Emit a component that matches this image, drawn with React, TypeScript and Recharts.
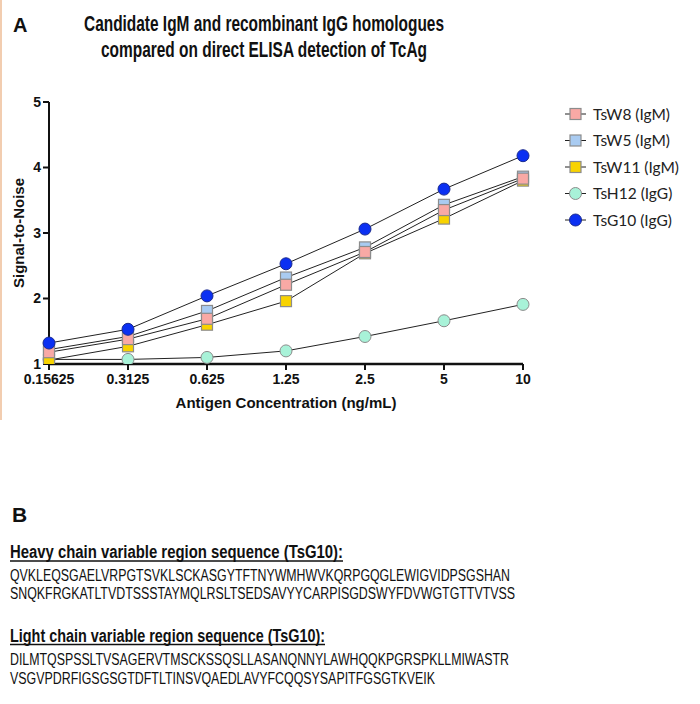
import React from "react";
import { LineChart, Line, XAxis, YAxis } from "recharts";

const concentrations = ["0.15625", "0.3125", "0.625", "1.25", "2.5", "5", "10"];
const tsW8 = [1.18, 1.38, 1.69, 2.21, 2.71, 3.35, 3.83];
const tsW5 = [1.22, 1.42, 1.81, 2.32, 2.78, 3.43, 3.86];
const tsW11 = [1.06, 1.27, 1.6, 1.96, 2.69, 3.22, 3.8];
const tsH12 = [1.07, 1.07, 1.1, 1.2, 1.42, 1.66, 1.91];
const tsG10 = [1.32, 1.53, 2.04, 2.53, 3.06, 3.67, 4.18];
const yTicks = [1, 2, 3, 4, 5];

const heavySeq = [
  "QVKLEQSGAELVRPGTSVKLSCKASGYTFTNYWMHWVKQRPGQGLEWIGVIDPSGSHAN",
  "SNQKFRGKATLTVDTSSSTAYMQLRSLTSEDSAVYYCARPISGDSWYFDVWGTGTTVTVSS",
];
const lightSeq = [
  "DILMTQSPSSLTVSAGERVTMSCKSSQSLLASANQNNYLAWHQQKPGRSPKLLMIWASTR",
  "VSGVPDRFIGSGSGTDFTLTINSVQAEDLAVYFCQQSYSAPITFGSGTKVEIK",
];

const data = concentrations.map((c, i) => ({
  conc: c,
  tsW8: tsW8[i],
  tsW5: tsW5[i],
  tsW11: tsW11[i],
  tsH12: tsH12[i],
  tsG10: tsG10[i],
}));

type Series = { key: string; name: string; fill: string; stroke: string; shape: "square" | "circle" };

// legend order
const series: Series[] = [
  { key: "tsW8", name: "TsW8 (IgM)", fill: "#f9a9a5", stroke: "#8c8c8c", shape: "square" },
  { key: "tsW5", name: "TsW5 (IgM)", fill: "#a9cbf1", stroke: "#8c8c8c", shape: "square" },
  { key: "tsW11", name: "TsW11 (IgM)", fill: "#f8d300", stroke: "#8c8c8c", shape: "square" },
  { key: "tsH12", name: "TsH12 (IgG)", fill: "#a8f2d8", stroke: "#8c8c8c", shape: "circle" },
  { key: "tsG10", name: "TsG10 (IgG)", fill: "#0b30f2", stroke: "#1a2a90", shape: "circle" },
];
// drawing order (last on top)
const drawOrder = ["tsH12", "tsW11", "tsW5", "tsW8", "tsG10"];

const FONT = "'Liberation Sans', Arial, sans-serif";
const NARROW = "'Liberation Sans Narrow', 'Liberation Sans', Arial, sans-serif";

function Marker({ s, cx, cy }: { s: Series; cx: number; cy: number }) {
  if (s.shape === "square") {
    return <rect x={cx - 5.5} y={cy - 5.5} width={11} height={11} fill={s.fill} stroke={s.stroke} strokeWidth={1.2} />;
  }
  return <circle cx={cx} cy={cy} r={6} fill={s.fill} stroke={s.stroke} strokeWidth={1} />;
}

function LegendBox() {
  return (
    <svg width={140} height={140}>
      {series.map((s, i) => {
        const y = 9 + i * 26.5;
        return (
          <g key={s.key}>
            <line x1={5} x2={26} y1={y} y2={y} stroke="#222" strokeWidth={1} />
            <Marker s={s} cx={15.5} cy={y} />
            <text x={33} y={y + 5.5} fontFamily="Lato, 'Open Sans', sans-serif" fontSize={15.5} fill="#222">
              {s.name}
            </text>
          </g>
        );
      })}
    </svg>
  );
}

export default function App() {
  return (
    <div style={{ position: "absolute", left: 0, top: 0, width: 700, height: 704, background: "#fff" }}>
      <div style={{ position: "absolute", left: 0, top: 0, width: 2, height: 420, background: "#f2cdb0" }} />
      <div style={{ position: "absolute", left: 0, top: 0 }}>
        <LineChart width={700} height={420} data={data} margin={{ top: 102, right: 177, bottom: 26, left: 14 }}>
          <XAxis
            dataKey="conc"
            interval={0}
            padding={{ left: 0, right: 0 }}
            axisLine={{ stroke: "#111", strokeWidth: 2.5 }}
            tickLine={{ stroke: "#111", strokeWidth: 2 }}
            tickSize={6}
            tickMargin={4}
            tick={{ fill: "#111", fontSize: 14, fontWeight: "bold", fontFamily: FONT }}
            height={30}
          />
          <YAxis
            type="number"
            domain={[1, 5]}
            ticks={yTicks}
            allowDataOverflow
            axisLine={{ stroke: "#111", strokeWidth: 2 }}
            tickLine={{ stroke: "#111", strokeWidth: 2 }}
            tickSize={6}
            tickMargin={2}
            tick={{ fill: "#111", fontSize: 14, fontWeight: "bold", fontFamily: FONT }}
            width={35}
          />
          {drawOrder.map((k) => {
            const s = series.find((x) => x.key === k)!;
            return (
              <Line
                key={k}
                dataKey={k}
                name={s.name}
                stroke="#222"
                strokeWidth={1}
                isAnimationActive={false}
                dot={(p: any) => <Marker key={`${k}-${p.index}`} s={s} cx={p.cx} cy={p.cy} />}
                activeDot={false}
              />
            );
          })}
        </LineChart>
      </div>
      <div style={{ position: "absolute", left: 560, top: 105 }}>
        <LegendBox />
      </div>
      <svg
        width={700}
        height={704}
        style={{ position: "absolute", left: 0, top: 0, pointerEvents: "none" }}
      >
        <text x={13} y={32} fontFamily={FONT} fontWeight="bold" fontSize={20} fill="#111">A</text>
        <text x={264} y={31} textAnchor="middle" fontFamily={NARROW} fontWeight="bold" fontSize={22} fill="#111" textLength={360} lengthAdjust="spacingAndGlyphs">
          Candidate IgM and recombinant IgG homologues
        </text>
        <text x={264} y={57} textAnchor="middle" fontFamily={NARROW} fontWeight="bold" fontSize={22} fill="#111" textLength={326} lengthAdjust="spacingAndGlyphs">
          compared on direct ELISA detection of TcAg
        </text>
        <text x={18} y={233} transform="rotate(-90 18 233)" textAnchor="middle" dominantBaseline="central" fontFamily={FONT} fontWeight="bold" fontSize={15} fill="#111">
          Signal-to-Noise
        </text>
        <text x={286} y={408} textAnchor="middle" fontFamily={FONT} fontWeight="bold" fontSize={15} fill="#111">
          Antigen Concentration (ng/mL)
        </text>

        <text x={12} y={522} fontFamily={NARROW} fontWeight="bold" fontSize={21} fill="#111">B</text>

        <text x={10} y={558} fontFamily={NARROW} fontWeight="bold" fontSize={17.5} fill="#111" textLength={333} lengthAdjust="spacingAndGlyphs">
          Heavy chain variable region sequence (TsG10):
        </text>
        <line x1={10} x2={343} y1={561} y2={561} stroke="#111" strokeWidth={1.5} />
        <text x={10} y={580.5} fontFamily={NARROW} fontSize={16} fill="#111" textLength={500} lengthAdjust="spacingAndGlyphs">
          {heavySeq[0]}
        </text>
        <text x={10} y={598.5} fontFamily={NARROW} fontSize={16} fill="#111" textLength={505} lengthAdjust="spacingAndGlyphs">
          {heavySeq[1]}
        </text>

        <text x={10} y={641.5} fontFamily={NARROW} fontWeight="bold" fontSize={17.5} fill="#111" textLength={315} lengthAdjust="spacingAndGlyphs">
          Light chain variable region sequence (TsG10):
        </text>
        <line x1={10} x2={325} y1={644.5} y2={644.5} stroke="#111" strokeWidth={1.5} />
        <text x={10} y={665} fontFamily={NARROW} fontSize={16} fill="#111" textLength={499} lengthAdjust="spacingAndGlyphs">
          {lightSeq[0]}
        </text>
        <text x={10} y={683.5} fontFamily={NARROW} fontSize={16} fill="#111" textLength={425} lengthAdjust="spacingAndGlyphs">
          {lightSeq[1]}
        </text>
      </svg>
    </div>
  );
}
